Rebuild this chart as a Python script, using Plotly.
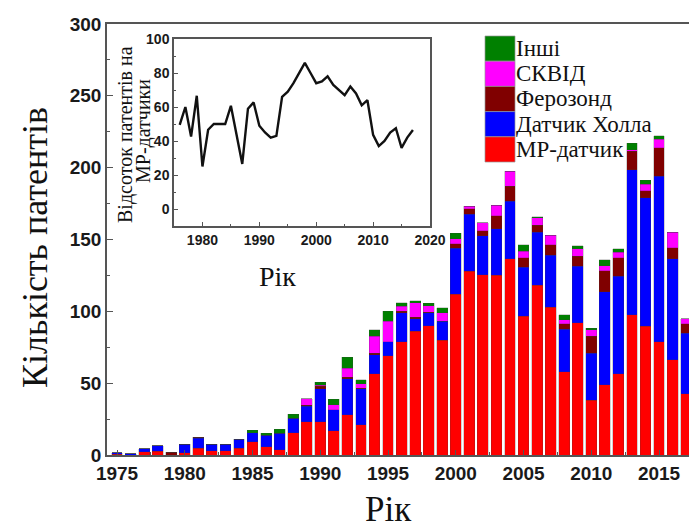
import plotly.graph_objects as go

# Patent counts per year, split by sensor type
years = list(range(1975, 2018))

mr_sensor = [0.5, 0, 2.3, 2.5, 0, 1.5, 4.6, 3, 2.8, 4.6,
             9.3, 5.8, 3.5, 15.6, 23, 23, 17, 28, 21, 56.5,
             69, 79, 86, 90, 80, 112, 128, 125.5, 125, 136.5,
             96.5, 118, 103, 58, 92, 38, 49, 56.5, 97.7, 89.5,
             79, 66.3, 42.6]
hall_sensor = [1, 1, 2, 3.8, 0, 6, 7, 4.4, 4.6, 6.3,
               6.3, 8.1, 11.6, 10, 11, 23, 14.4, 25, 25, 13.3,
               10, 20, 9, 9, 13, 32, 39.5, 27, 32.5, 40,
               34.3, 37, 36, 29.5, 39.5, 33, 64.5, 68, 101, 89.6,
               115, 70.2, 42.3]
fluxgate = [0, 0, 0, 0, 2, 0, 0.7, 0, 0, 0,
            0, 0, 0, 0, 0.5, 2, 0, 1, 0.5, 1.2,
            0, 1, 1, 0.5, 0, 3, 4, 3.5, 9, 10.5,
            6.5, 5, 7.5, 3.7, 7, 11.7, 14.6, 12.8, 12.8, 4.7,
            19.8, 7.7, 6.6]
squid = [0, 0, 0, 0, 0, 0, 0, 0, 0, 0,
         0, 0, 0, 0, 4.5, 0.5, 3.5, 6.5, 3, 11.6,
         14, 3.5, 10, 4.5, 6, 3.5, 1.5, 5.5, 7.5, 10.5,
         4.6, 5, 6.3, 2.8, 5, 4.5, 3.5, 4, 1, 4.6,
         6, 10.9, 3.2]
other = [0, 0, 0, 0, 0, 0, 0, 0, 0, 0,
         1.8, 1.2, 3, 2.8, 0, 2, 4, 7.5, 3, 4.6,
         7, 2.5, 1.5, 1.5, 3.5, 4, 0, 0, 0, 0,
         4.6, 1, 0, 3.5, 2, 1, 4.2, 2.3, 4.6, 3,
         2.3, 0, 0]

series_names = ["МР-датчик", "Датчик Холла", "Ферозонд", "СКВІД", "Інші"]
series_colors = ["#ff0000", "#0000ff", "#800000", "#ff00ff", "#008000"]
series_values = [mr_sensor, hall_sensor, fluxgate, squid, other]

# Share of MR-sensor patents, percent
share_years = list(range(1976, 2018))
mr_share = [49.5, 60, 42.6, 66.6, 25, 46.6, 50, 50, 50, 60.7,
            43, 26.5, 59, 62.7, 49, 45, 42, 43, 66, 69,
            74, 80, 86, 80, 74, 75, 78, 73, 70, 67,
            72, 68, 61, 64, 43.6, 37, 40, 45, 47.5, 36,
            42, 46.5]

main_y_ticks = [0, 50, 100, 150, 200, 250, 300]
main_x_ticks = [1975, 1980, 1985, 1990, 1995, 2000, 2005, 2010, 2015]
inset_y_ticks = [0, 20, 40, 60, 80, 100]
inset_x_ticks = [1980, 1990, 2000, 2010, 2020]

W, H = 689, 529
L, R, T, B = 107, 0, 24, 74
PW, PH = W - L - R, H - T - B

def px_x(x):
    return (x - L) / PW

def px_y(y):
    return (H - B - y) / PH

SERIF = "Liberation Serif, Times New Roman, serif"
SANS = "Liberation Sans, Arial, sans-serif"
AXIS_COLOR = "#555555"

fig = go.Figure()

for name, color, vals in zip(series_names, series_colors, series_values):
    fig.add_trace(go.Bar(
        x=years, y=vals, name=name,
        marker=dict(color=color, line=dict(color="rgba(60,60,60,0.45)", width=0.5)),
        width=0.8, showlegend=False,
        xaxis="x", yaxis="y",
    ))

fig.add_trace(go.Scatter(
    x=share_years, y=mr_share, mode="lines",
    line=dict(color="#111111", width=2.4),
    showlegend=False, xaxis="x2", yaxis="y2",
))

fig.update_layout(
    width=W, height=H, autosize=False,
    margin=dict(l=L, r=R, t=T, b=B, pad=0, autoexpand=False),
    showlegend=False,
    paper_bgcolor="white", plot_bgcolor="white",
    barmode="stack", bargap=0.2,
    xaxis=dict(
        domain=[0, 1], range=[1974.26, 2017.21], automargin=False,
        tickvals=main_x_ticks, ticks="inside", ticklen=5, tickcolor=AXIS_COLOR,
        minor=dict(dtick=2.5, tick0=1975, ticks="inside", ticklen=3, tickcolor=AXIS_COLOR),
        showline=True, linecolor=AXIS_COLOR, linewidth=1.5, mirror=True,
        showgrid=False, zeroline=False,
        tickfont=dict(family=SANS, size=19, color="#1a1a1a", weight="bold"),
    ),
    yaxis=dict(
        domain=[0, 1], range=[0, 300], automargin=False,
        tickvals=main_y_ticks, ticks="inside", ticklen=6, tickcolor=AXIS_COLOR,
        minor=dict(dtick=25, ticks="inside", ticklen=3, tickcolor=AXIS_COLOR),
        showline=True, linecolor=AXIS_COLOR, linewidth=1.5, mirror=False,
        showgrid=False, zeroline=False,
        tickfont=dict(family=SANS, size=19, color="#1a1a1a", weight="bold"),
    ),
    xaxis2=dict(
        domain=[px_x(174), px_x(430)], anchor="y2", range=[1975, 2020], automargin=False,
        tickvals=inset_x_ticks, ticks="inside", ticklen=4, tickcolor=AXIS_COLOR,
        minor=dict(dtick=5, tick0=1975, ticks="inside", ticklen=2, tickcolor=AXIS_COLOR),
        showline=True, linecolor=AXIS_COLOR, linewidth=1.5, mirror=True,
        showgrid=False, zeroline=False,
        tickfont=dict(family=SANS, size=14, color="#1a1a1a", weight="bold"),
    ),
    yaxis2=dict(
        domain=[px_y(226), px_y(39)], anchor="x2", range=[-10, 100], automargin=False,
        tickvals=inset_y_ticks, ticks="inside", ticklen=4, tickcolor=AXIS_COLOR,
        minor=dict(dtick=10, ticks="inside", ticklen=2, tickcolor=AXIS_COLOR),
        showline=True, linecolor=AXIS_COLOR, linewidth=1.5, mirror=True,
        showgrid=False, zeroline=False,
        tickfont=dict(family=SANS, size=14, color="#1a1a1a", weight="bold"),
    ),
)

# White backdrop behind the inset plot
fig.add_shape(type="rect", xref="paper", yref="paper",
              x0=px_x(174), x1=px_x(430), y0=px_y(226), y1=px_y(39),
              fillcolor="white", line=dict(width=0), layer="below")

annotations = [
    dict(text="Кількість патентів", x=px_x(35), y=px_y(248), textangle=-90,
         font=dict(family=SERIF, size=36, color="#111111")),
    dict(text="Рік", x=px_x(388), y=px_y(510),
         font=dict(family=SERIF, size=35, color="#111111")),
    dict(text="Відсоток патентів на", x=px_x(125), y=px_y(135),
         textangle=-90, font=dict(family=SERIF, size=20, color="#111111")),
    dict(text="МР-датчики", x=px_x(143), y=px_y(131),
         textangle=-90, font=dict(family=SERIF, size=20, color="#111111")),
    dict(text="Рік", x=px_x(277), y=px_y(276),
         font=dict(family=SERIF, size=28, color="#111111")),
]
for a in annotations:
    fig.add_annotation(xref="paper", yref="paper", showarrow=False,
                       xanchor="center", yanchor="middle", **a)

# Legend drawn as large colour blocks, top entry = last stacked series
sw_x0, sw_x1 = 485, 515
row_h = 25.2
top = 36
for i, (name, color) in enumerate(zip(reversed(series_names), reversed(series_colors))):
    y0 = top + i * row_h
    fig.add_shape(type="rect", xref="paper", yref="paper",
                  x0=px_x(sw_x0), x1=px_x(sw_x1), y0=px_y(y0 + row_h), y1=px_y(y0),
                  fillcolor=color, line=dict(color="rgba(150,150,150,0.7)", width=1))
    fig.add_annotation(xref="paper", yref="paper", showarrow=False,
                       x=px_x(sw_x1 - 1), y=px_y(y0 + row_h / 2), xanchor="left", yanchor="middle",
                       text=name, font=dict(family=SERIF, size=23, color="#111111"))

fig.write_html("out.html")
